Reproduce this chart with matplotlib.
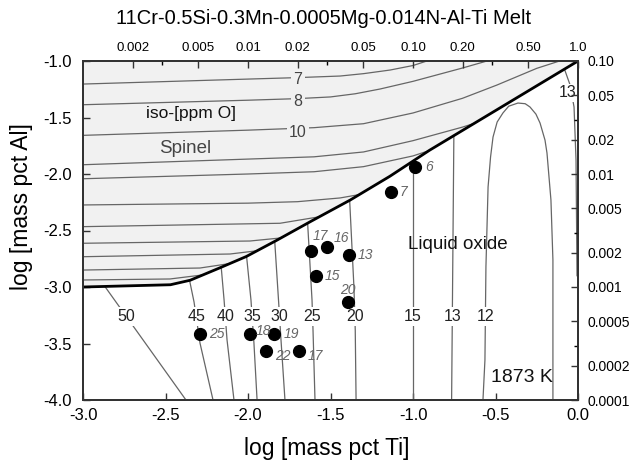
import numpy as np
import matplotlib.pyplot as plt
from matplotlib.patches import Polygon

plt.rcParams['font.family'] = ['Liberation Sans', 'DejaVu Sans']

title = "11Cr-0.5Si-0.3Mn-0.0005Mg-0.014N-Al-Ti Melt"

# spinel / liquid oxide boundary (log Ti, log Al)
bnd_ti = [-3.0, -2.47, -2.35, -2.17, -2.01, -1.83, -1.62, -1.38, -1.14, -0.90, 0.0]
bnd_al = [-3.0, -2.98, -2.94, -2.83, -2.73, -2.59, -2.42, -2.23, -2.02, -1.79, -1.0]

# iso-oxygen lines in the spinel field (only 7, 8, 10 are labelled)
spinel_ti = [
    [-3, -2.0, -1.7, -1.442, -1.3, -1.139, -1.0, -0.897],
    [-3, -2.0, -1.7, -1.5, -1.35, -1.2, -1.0, -0.7, -0.53],
    [-3, -2.0, -1.6, -1.3, -1.0, -0.7, -0.49, -0.25, -0.08],
    [-3, -2.0, -1.6, -1.3, -1.0, -0.7, -0.47],
    [-3, -2.0, -1.6, -1.3, -1.0, -0.75],
    [-3, -2.0, -1.7, -1.442, -1.2, -1.0],
    [-3, -1.806, -1.503],
    [-3, -1.988, -1.685],
    [-3, -2.109, -1.806],
    [-3, -2.291, -2.048],
    [-3, -2.473, -2.230],
]
spinel_al = [
    [-1.204, -1.160, -1.147, -1.133, -1.112, -1.080, -1.040, -0.991],
    [-1.387, -1.347, -1.333, -1.318, -1.290, -1.248, -1.180, -1.062, -0.991],
    [-1.658, -1.612, -1.590, -1.555, -1.460, -1.330, -1.212, -1.065, -0.985],
    [-1.918, -1.868, -1.848, -1.805, -1.705, -1.585, -1.478],
    [-2.042, -2.000, -1.980, -1.935, -1.840, -1.720],
    [-2.274, -2.258, -2.245, -2.212, -2.150, -2.080],
    [-2.466, -2.436, -2.363],
    [-2.613, -2.593, -2.549],
    [-2.732, -2.708, -2.655],
    [-2.850, -2.832, -2.779],
    [-2.938, -2.929, -2.885],
]
spinel_lbl = ["7", "8", "10"]
spinel_lbl_ti = [-1.697, -1.697, -1.697]
spinel_lbl_al = [-1.165, -1.354, -1.637]

# iso-oxygen lines in the liquid oxide field
liq_lbl = ["50", "45", "40", "35", "30", "25", "20", "15", "13", "12"]
liq_ti = [
    [-2.87, -2.376],
    [-2.36, -2.327, -2.291, -2.212],
    [-2.165, -2.145, -2.127, -2.085],
    [-2.012, -1.982, -1.964, -1.945],
    [-1.84, -1.812, -1.800, -1.776],
    [-1.64, -1.612, -1.606, -1.594],
    [-1.385, -1.358, -1.350, -1.345],
    [-1.0, -1.0],
    [-0.752, -0.766],
    [-0.576, -0.564, -0.558, -0.545, -0.530, -0.515, -0.490, -0.455, -0.420, -0.364,
     -0.320, -0.291, -0.255, -0.230, -0.200, -0.188, -0.164, -0.152, -0.152, -0.152],
]
liq_al = [
    [-2.99, -4.0],
    [-2.90, -3.133, -3.496, -4.0],
    [-2.78, -3.115, -3.469, -4.0],
    [-2.68, -3.115, -3.496, -4.0],
    [-2.55, -3.186, -3.469, -4.0],
    [-2.40, -3.115, -3.381, -4.0],
    [-2.20, -3.000, -3.381, -4.0],
    [-1.85, -4.0],
    [-1.60, -4.0],
    [-4.0, -3.646, -2.823, -2.115, -1.85, -1.673, -1.54, -1.460, -1.40, -1.372,
     -1.378, -1.407, -1.47, -1.549, -1.70, -1.814, -2.230, -2.761, -3.354, -4.0],
]
liq_lbl_al = -3.26

# second "13" line hugging the right axis
r13_ti = [-0.091, -0.048, -0.024, -0.012, -0.006]
r13_al = [-1.035, -1.212, -1.407, -1.876, -2.9]

# experimental points
pt_lbl = ["6", "7", "17", "16", "13", "15", "20", "18", "19", "22", "17", "25"]
pt_ti = [-0.988, -1.135, -1.618, -1.519, -1.390, -1.588, -1.392, -1.988, -1.841, -1.891, -1.693, -2.291]
pt_al = [-1.941, -2.162, -2.681, -2.643, -2.720, -2.903, -3.135, -3.416, -3.416, -3.564, -3.564, -3.419]
pt_off = [(10, 0), (9, 0), (7, 11), (10, 6), (12, 0), (12, 0), (0, 9), (10, 2), (12, 0), (12, -4), (12, -4), (12, 0)]

# secondary scales
top_vals = [0.002, 0.005, 0.01, 0.02, 0.05, 0.10, 0.20, 0.50, 1.0]
top_lbls = ["0.002", "0.005", "0.01", "0.02", "0.05", "0.10", "0.20", "0.50", "1.0"]
right_vals = [0.10, 0.05, 0.02, 0.01, 0.005, 0.002, 0.001, 0.0005, 0.0002, 0.0001]
right_lbls = ["0.10", "0.05", "0.02", "0.01", "0.005", "0.002", "0.001", "0.0005", "0.0002", "0.0001"]

spinel_fill = "#f1f1f1"
line_col = "#666666"

fig = plt.figure(figsize=(6.33, 4.70), dpi=100)
ax = fig.add_axes([83 / 633, 70 / 470, 495 / 633, 339 / 470])
ax.set_xlim(-3, 0)
ax.set_ylim(-4, -1)

spinel_poly = Polygon(list(zip(bnd_ti, bnd_al)) + [(0, -1), (-3, -1)], closed=True,
                      facecolor=spinel_fill, edgecolor="none", zorder=0)
ax.add_patch(spinel_poly)
liq_poly = Polygon(list(zip(bnd_ti, bnd_al)) + [(0, -4), (-3, -4)], closed=True,
                   facecolor="white", edgecolor="none", zorder=0)
ax.add_patch(liq_poly)

for xs, ys in zip(spinel_ti, spinel_al):
    ln, = ax.plot(xs, ys, color=line_col, lw=0.9, zorder=2)
    ln.set_clip_path(spinel_poly)
for t, x, y in zip(spinel_lbl, spinel_lbl_ti, spinel_lbl_al):
    ax.text(x, y, t, fontsize=11.5, color="#444444", ha="center", va="center", zorder=3,
            bbox=dict(facecolor=spinel_fill, edgecolor="none", pad=1.5))

for xs, ys, t in zip(liq_ti, liq_al, liq_lbl):
    ln, = ax.plot(xs, ys, color=line_col, lw=0.9, zorder=2)
    ln.set_clip_path(liq_poly)
    if t == "12":
        lx = np.interp(liq_lbl_al, ys[:5], xs[:5])
    else:
        lx = np.interp(liq_lbl_al, ys[::-1], xs[::-1])
    ax.text(lx, liq_lbl_al, t, fontsize=11.5, color="#222222", ha="center", va="center", zorder=3,
            bbox=dict(facecolor="white", edgecolor="none", pad=1.5))

ln, = ax.plot(r13_ti, r13_al, color=line_col, lw=0.9, zorder=2)
ln.set_clip_path(liq_poly)
ax.text(r13_ti[1] - 0.013, -1.283, "13", fontsize=11.5, color="#222222", ha="center", va="center",
        zorder=3, bbox=dict(facecolor="white", edgecolor="none", pad=1))

ax.plot(bnd_ti, bnd_al, color="black", lw=2.0, zorder=4)

ax.plot(pt_ti, pt_al, "o", color="black", ms=8.5, zorder=5)
for t, x, y, off in zip(pt_lbl, pt_ti, pt_al, pt_off):
    ax.annotate(t, (x, y), xytext=off, textcoords="offset points", fontsize=10,
                style="italic", color="#666666", ha="center", va="center", zorder=5)

ax.text(-2.345, -1.469, "iso-[ppm O]", fontsize=12.5, color="#111111",
        ha="center", va="center", zorder=3)
ax.text(-2.382, -1.770, "Spinel", fontsize=13.5, color="#444444", ha="center", va="center",
        zorder=3)
ax.text(-0.73, -2.628, "Liquid oxide", fontsize=13.5, color="#111111", ha="center", va="center")
ax.text(-0.339, -3.797, "1873 K", fontsize=14, color="#111111", ha="center", va="center")

ax.set_xticks(np.arange(-3.0, 0.01, 0.5))
ax.set_xticklabels([f"{v:.1f}" for v in np.arange(-3.0, 0.01, 0.5)])
ax.set_yticks(np.arange(-4.0, -0.99, 0.5))
ax.set_yticklabels([f"{v:.1f}" for v in np.arange(-4.0, -0.99, 0.5)])
ax.tick_params(direction="in", length=5, width=1, labelsize=12, color="#333333")
ax.tick_params(axis="x", pad=6)
ax.tick_params(axis="y", pad=8)

ax_top = ax.twiny()
ax_top.set_xlim(-3, 0)
ax_top.set_xticks(np.log10(top_vals))
ax_top.set_xticklabels(top_lbls)
ax_top.set_xticks(np.log10([0.003, 0.03, 0.3]), minor=True)
ax_top.tick_params(direction="in", length=5, width=1, labelsize=9.5, pad=5, color="#333333")
ax_top.tick_params(which="minor", direction="in", length=3, width=1)

ax_r = ax.twinx()
ax_r.set_ylim(-4, -1)
ax_r.set_yticks(np.log10(right_vals))
ax_r.set_yticklabels(right_lbls)
ax_r.set_yticks(np.log10([0.03, 0.003, 0.0003]), minor=True)
ax_r.tick_params(direction="in", length=5, width=1, labelsize=10, pad=7, color="#333333")
ax_r.tick_params(which="minor", direction="in", length=3, width=1)

for a in (ax, ax_top, ax_r):
    for s in a.spines.values():
        s.set_linewidth(1.2)
        s.set_color("#333333")

fig.text(323.5 / 633, 1 - 18 / 470, title, fontsize=14.5, ha="center", va="center")
fig.text(326.5 / 633, 1 - 449 / 470, "log [mass pct Ti]", fontsize=16.5, ha="center", va="center")
fig.text(22 / 633, 1 - 207 / 470, "log [mass pct Al]", fontsize=16.5, rotation=90,
         ha="center", va="center")

fig.savefig("out.png", dpi=100)
plt.close(fig)
